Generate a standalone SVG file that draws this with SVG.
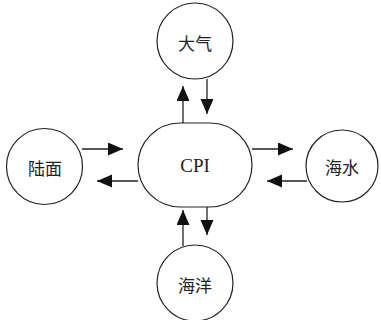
<svg xmlns="http://www.w3.org/2000/svg" width="381" height="320" viewBox="0 0 381 320">
<style>
.n{fill:#fff;stroke:#222;stroke-width:1.2}
.c{stroke:#222;stroke-width:1.3;fill:none;marker-end:url(#ah)}
.t{font-family:"Noto Sans CJK SC","Noto Sans CJK JP",sans-serif;font-size:17px;fill:#222;text-anchor:middle;dominant-baseline:central}
.e{font-family:"Liberation Serif",serif;font-size:19px;fill:#222;text-anchor:middle;dominant-baseline:central}
</style>
<defs>
<marker id="ah" markerUnits="userSpaceOnUse" markerWidth="16" markerHeight="14" refX="15" refY="6.5" orient="auto">
<path d="M0,0 L15,6.5 L0,13 Z" fill="#111"/>
</marker>
</defs>
<rect width="381" height="320" fill="#fff"/>
<g id="connectors">
<path class="c" d="M183,123 V86"/>
<path class="c" d="M207,79 V114"/>
<path class="c" d="M82,149 H123"/>
<path class="c" d="M138,181 H97"/>
<path class="c" d="M252,149 H293"/>
<path class="c" d="M307,181 H267"/>
<path class="c" d="M183,246 V210"/>
<path class="c" d="M207,207 V235"/>
</g>
<g id="atmosphere">
<circle class="n" cx="195" cy="41" r="38"/>
<text class="t" x="195" y="42">大气</text>
</g>
<g id="cpi">
<rect class="n" x="138" y="123" width="114" height="84" rx="42" ry="42"/>
<text class="e" x="195" y="165">CPI</text>
</g>
<g id="land">
<circle class="n" cx="44.5" cy="166.5" r="38"/>
<text class="t" x="45" y="167">陆面</text>
</g>
<g id="seawater">
<circle class="n" cx="342" cy="166" r="36"/>
<text class="t" x="342" y="166">海水</text>
</g>
<g id="ocean">
<circle class="n" cx="195" cy="283" r="38"/>
<text class="t" x="195" y="284">海洋</text>
</g>
</svg>
